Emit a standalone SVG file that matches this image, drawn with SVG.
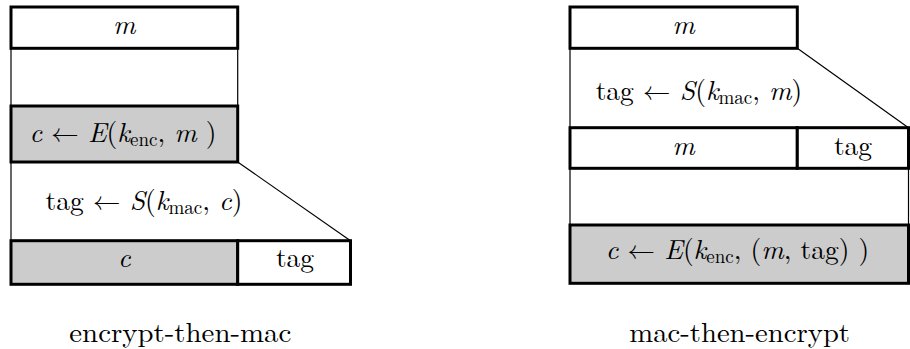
<svg xmlns="http://www.w3.org/2000/svg" width="910" height="349" viewBox="0 0 910 349">
<style>
.box{fill:#ffffff;stroke:#000;stroke-width:3}
.gray{fill:#cccccc;stroke:#000;stroke-width:3}
.thin{stroke:#000;stroke-width:1.2;fill:none}
</style>
<rect width="910" height="349" fill="#ffffff"/>
<g id="connectors">
  <line class="thin" x1="11" y1="48" x2="11" y2="241"/>
  <line class="thin" x1="237.7" y1="48" x2="237.7" y2="106"/>
  <line class="thin" x1="237.7" y1="162" x2="350.5" y2="240.7"/>
  <line class="thin" x1="570" y1="48" x2="570" y2="225"/>
  <line class="thin" x1="797.3" y1="48.3" x2="908.5" y2="127.7"/>
  <line class="thin" x1="908.5" y1="168" x2="908.5" y2="225"/>
</g>
<g id="etm-m">
  <rect class="box" x="11" y="7" width="226.7" height="41.3"/>
  <text font-family="Latin Modern Roman, Liberation Serif, serif" font-size="27.5" text-anchor="middle" font-style="italic" x="124.3" y="34.3">m</text>
</g>
<g id="etm-enc">
  <rect class="gray" x="11" y="106" width="226.7" height="56"/>
  <text font-family="Latin Modern Roman, Liberation Serif, serif" font-size="27.5" text-anchor="middle" x="123" y="142"><tspan font-style="italic">c</tspan> <tspan font-family="Latin Modern Math, DejaVu Serif, serif">←</tspan> <tspan font-style="italic">E</tspan>(<tspan font-style="italic">k</tspan><tspan font-size="19" dy="4">enc</tspan><tspan dy="-4">, </tspan><tspan font-style="italic">m</tspan> )</text>
</g>
<g id="etm-mac">
  <text font-family="Latin Modern Roman, Liberation Serif, serif" font-size="27.5" text-anchor="middle" x="144" y="210">tag <tspan font-family="Latin Modern Math, DejaVu Serif, serif">←</tspan> <tspan font-style="italic">S</tspan>(<tspan font-style="italic">k</tspan><tspan font-size="19" dy="4">mac</tspan><tspan dy="-4">, </tspan><tspan font-style="italic">c</tspan>)</text>
</g>
<g id="etm-c">
  <rect class="gray" x="11" y="240.7" width="226.7" height="43.6"/>
  <text font-family="Latin Modern Roman, Liberation Serif, serif" font-size="27.5" text-anchor="middle" font-style="italic" x="124.3" y="267">c</text>
</g>
<g id="etm-tag">
  <rect class="box" x="237.7" y="240.7" width="112.8" height="43.6"/>
  <text font-family="Latin Modern Roman, Liberation Serif, serif" font-size="27.5" text-anchor="middle" x="295" y="267">tag</text>
</g>
<g id="etm-caption">
  <text font-family="Latin Modern Roman, Liberation Serif, serif" font-size="28" x="69.3" y="342" textLength="222" lengthAdjust="spacingAndGlyphs">encrypt-then-mac</text>
</g>
<g id="mte-m">
  <rect class="box" x="570" y="7" width="227.3" height="41.3"/>
  <text font-family="Latin Modern Roman, Liberation Serif, serif" font-size="27.5" text-anchor="middle" font-style="italic" x="683.6" y="34.3">m</text>
</g>
<g id="mte-mac">
  <text font-family="Latin Modern Roman, Liberation Serif, serif" font-size="27.5" text-anchor="middle" x="699" y="100">tag <tspan font-family="Latin Modern Math, DejaVu Serif, serif">←</tspan> <tspan font-style="italic">S</tspan>(<tspan font-style="italic">k</tspan><tspan font-size="19" dy="4">mac</tspan><tspan dy="-4">, </tspan><tspan font-style="italic">m</tspan>)</text>
</g>
<g id="mte-m2">
  <rect class="box" x="570" y="127.7" width="227.3" height="40.6"/>
  <text font-family="Latin Modern Roman, Liberation Serif, serif" font-size="27.5" text-anchor="middle" font-style="italic" x="683.6" y="155">m</text>
</g>
<g id="mte-tag">
  <rect class="box" x="797.3" y="127.7" width="111.2" height="40.6"/>
  <text font-family="Latin Modern Roman, Liberation Serif, serif" font-size="27.5" text-anchor="middle" x="853" y="155">tag</text>
</g>
<g id="mte-enc">
  <rect class="gray" x="570" y="225" width="338.5" height="58.3"/>
  <text font-family="Latin Modern Roman, Liberation Serif, serif" font-size="27.5" text-anchor="middle" x="737.5" y="259.3"><tspan font-style="italic">c</tspan> <tspan font-family="Latin Modern Math, DejaVu Serif, serif">←</tspan> <tspan font-style="italic">E</tspan>(<tspan font-style="italic">k</tspan><tspan font-size="19" dy="4">enc</tspan><tspan dy="-4">, (</tspan><tspan font-style="italic">m</tspan>, tag) )</text>
</g>
<g id="mte-caption">
  <text font-family="Latin Modern Roman, Liberation Serif, serif" font-size="28" x="629.3" y="342" textLength="220.7" lengthAdjust="spacingAndGlyphs">mac-then-encrypt</text>
</g>
</svg>
